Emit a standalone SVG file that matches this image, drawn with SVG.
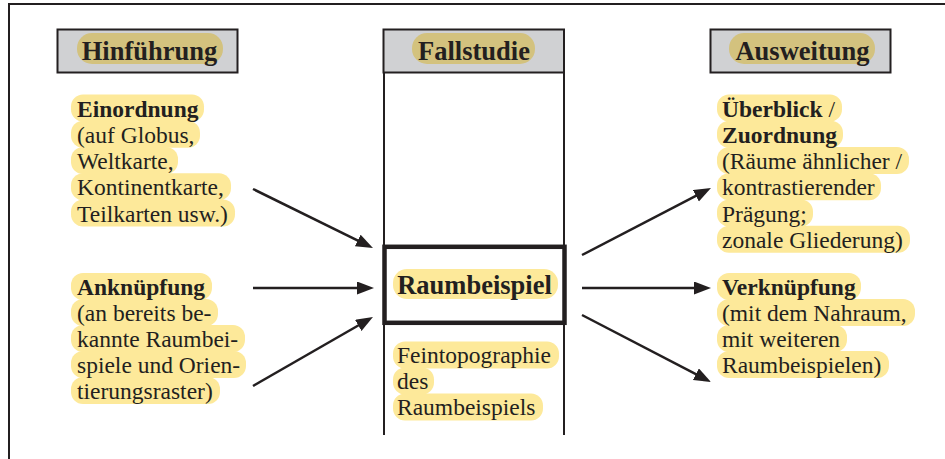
<svg xmlns="http://www.w3.org/2000/svg" width="945" height="459" viewBox="0 0 945 459">
<defs>
<style>
text{font-family:"Liberation Serif","Times New Roman",serif;fill:#231f20}
.b{font-size:23.5px}
.h{font-size:26.5px;font-weight:bold;text-anchor:middle}
.bold{font-weight:bold}
.hl{fill:#fde99a}
.hh{fill:#d3c27e}
.hbox{fill:#d0d1d3;stroke:#231f20;stroke-width:2}
.ln{stroke:#231f20;stroke-width:2;fill:none}
.ar{stroke:#231f20;stroke-width:2.5;fill:none;marker-end:url(#ah)}
</style>
<marker id="ah" markerUnits="userSpaceOnUse" markerWidth="18" markerHeight="14" refX="7" refY="6.5" orient="auto">
<path d="M0,0 L17,6.5 L0,13 z" fill="#231f20"/>
</marker>
</defs>
<rect width="945" height="459" fill="#fff"/>
<path class="ln" d="M9,459 V4 H945"/>

<g id="hinfuehrung">
<rect class="hbox" x="57.5" y="29.5" width="180" height="43"/>
<rect class="hh" x="77" y="33" width="146" height="31" rx="15"/>
<text class="h" x="149.5" y="59.5">Hinführung</text>
</g>

<g id="fallstudie">
<rect class="hbox" x="383.5" y="29.5" width="180.5" height="43"/>
<rect class="hh" x="412" y="33" width="123" height="31" rx="15"/>
<text class="h" x="474" y="59.5">Fallstudie</text>
<path class="ln" d="M384,72 V435 M564,72 V435"/>
</g>

<g id="ausweitung">
<rect class="hbox" x="710.5" y="29.5" width="180" height="43"/>
<rect class="hh" x="729" y="33" width="146" height="31" rx="15"/>
<text class="h" x="802.5" y="59.5">Ausweitung</text>
</g>

<g id="einordnung">
<rect class="hl" x="71" y="94.5" width="133" height="27" rx="12"/>
<rect class="hl" x="71" y="120.8" width="129" height="27" rx="12"/>
<rect class="hl" x="71" y="147" width="107" height="27" rx="12"/>
<rect class="hl" x="71" y="173.3" width="160" height="27" rx="12"/>
<rect class="hl" x="71" y="199.5" width="164" height="27" rx="12"/>
<text class="b" x="77" y="116.5"><tspan class="bold">Einordnung</tspan><tspan x="77" dy="26.25">(auf Globus,</tspan><tspan x="77" dy="26.25">Weltkarte,</tspan><tspan x="77" dy="26.25">Kontinentkarte,</tspan><tspan x="77" dy="26.25">Teilkarten usw.)</tspan></text>
</g>

<g id="anknuepfung">
<rect class="hl" x="71" y="273" width="141" height="27" rx="12"/>
<rect class="hl" x="71" y="299" width="147" height="27" rx="12"/>
<rect class="hl" x="71" y="325" width="174" height="27" rx="12"/>
<rect class="hl" x="71" y="351" width="175" height="27" rx="12"/>
<rect class="hl" x="71" y="377" width="149" height="27" rx="12"/>
<text class="b" x="77" y="295"><tspan class="bold">Anknüpfung</tspan><tspan x="77" dy="26">(an bereits be-</tspan><tspan x="77" dy="26">kannte Raumbei-</tspan><tspan x="77" dy="26">spiele und Orien-</tspan><tspan x="77" dy="26">tierungsraster)</tspan></text>
</g>

<g id="raumbeispiel">
<rect x="384.5" y="246.8" width="180" height="76" fill="none" stroke="#231f20" stroke-width="4.5"/>
<rect class="hl" x="393" y="269" width="165" height="30" rx="14"/>
<text class="h" x="474.5" y="293.5">Raumbeispiel</text>
</g>

<g id="feintopographie">
<rect class="hl" x="393" y="341.5" width="166" height="27" rx="12"/>
<rect class="hl" x="393" y="367.5" width="41" height="27" rx="12"/>
<rect class="hl" x="393" y="393.5" width="150" height="27" rx="12"/>
<text class="b" x="397" y="363.3"><tspan>Feintopographie</tspan><tspan x="397" dy="26">des</tspan><tspan x="397" dy="26">Raumbeispiels</tspan></text>
</g>

<g id="ueberblick">
<rect class="hl" x="717" y="94.5" width="125" height="27" rx="12"/>
<rect class="hl" x="717" y="120.8" width="126" height="27" rx="12"/>
<rect class="hl" x="717" y="147" width="192" height="27" rx="12"/>
<rect class="hl" x="717" y="173.3" width="164" height="27" rx="12"/>
<rect class="hl" x="717" y="199.5" width="96" height="27" rx="12"/>
<rect class="hl" x="717" y="225.8" width="193" height="27" rx="12"/>
<text class="b" x="722" y="116.5"><tspan class="bold">Überblick</tspan><tspan> /</tspan><tspan x="722" dy="26.25" class="bold">Zuordnung</tspan><tspan x="722" dy="26.25">(Räume ähnlicher /</tspan><tspan x="722" dy="26.25">kontrastierender</tspan><tspan x="722" dy="26.25">Prägung;</tspan><tspan x="722" dy="26.25">zonale Gliederung)</tspan></text>
</g>

<g id="verknuepfung">
<rect class="hl" x="717" y="273" width="144" height="27" rx="12"/>
<rect class="hl" x="717" y="299" width="198" height="27" rx="12"/>
<rect class="hl" x="717" y="325" width="130" height="27" rx="12"/>
<rect class="hl" x="717" y="351" width="172" height="27" rx="12"/>
<text class="b" x="722" y="295"><tspan class="bold">Verknüpfung</tspan><tspan x="722" dy="26">(mit dem Nahraum,</tspan><tspan x="722" dy="26">mit weiteren</tspan><tspan x="722" dy="26">Raumbeispielen)</tspan></text>
</g>

<g id="connectors">
<line class="ar" x1="253" y1="189" x2="364" y2="243.6"/>
<line class="ar" x1="253" y1="288" x2="364" y2="288"/>
<line class="ar" x1="253" y1="386" x2="364.3" y2="322"/>
<line class="ar" x1="582" y1="255" x2="702.1" y2="192.6"/>
<line class="ar" x1="582" y1="288" x2="701" y2="288"/>
<line class="ar" x1="582" y1="315" x2="702.1" y2="377.4"/>
</g>
</svg>
